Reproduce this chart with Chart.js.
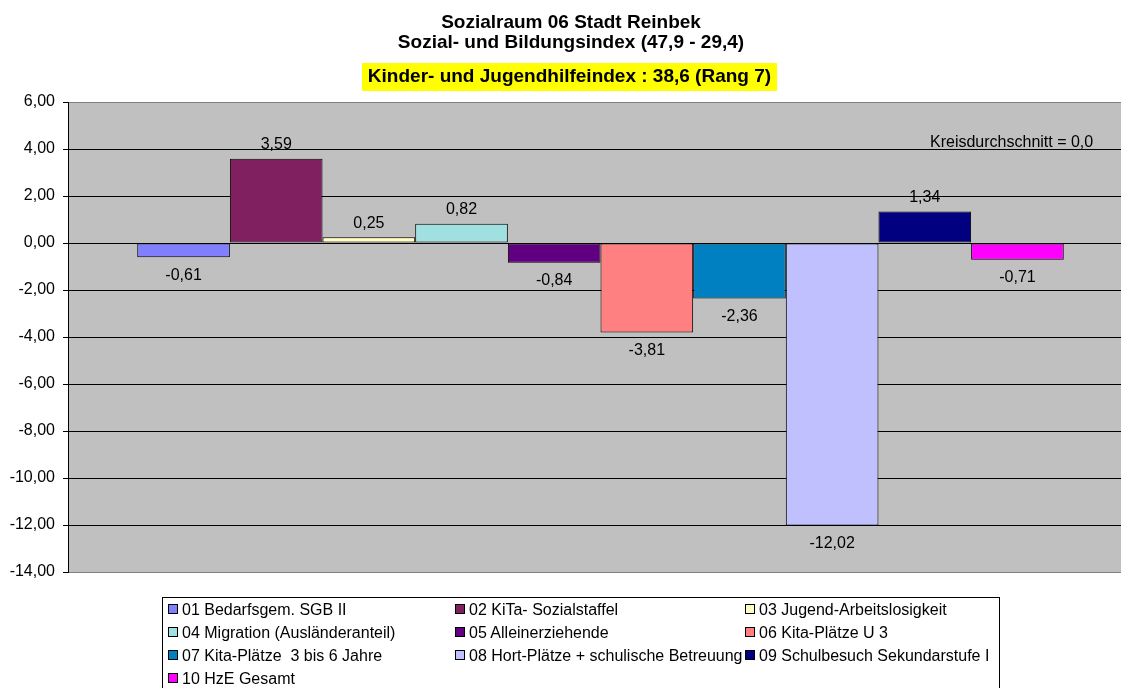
<!DOCTYPE html>
<html>
<head>
<meta charset="utf-8">
<script src="https://cdn.jsdelivr.net/npm/chart.js@4/dist/chart.umd.min.js"></script>
<style>
  html, body { margin: 0; padding: 0; background: #fff; overflow: hidden; }
  #wrap { position: relative; width: 1121px; height: 688px; overflow: hidden; font-family: "Liberation Sans", Arial, sans-serif; color: #000; }
  #chart-box { position: absolute; left: 0; top: 0; width: 1133px; height: 688px; }
  .title { position: absolute; left: 321px; width: 500px; text-align: center; font-weight: bold; font-size: 19px; line-height: 19px; white-space: nowrap; }
  #t3 { left: 362px; width: 415px; height: 28px; line-height: 25px; background: #ffff00; }
  #kreis { position: absolute; left: 930px; top: 133px; font-size: 16px; line-height: 18px; white-space: nowrap; }
  #legend { position: absolute; left: 162px; top: 597px; width: 838px; height: 100px; border: 1px solid #000; box-sizing: border-box; font-size: 16px; }
  .leg-item { position: absolute; white-space: pre; line-height: 18px; }
  .leg-item i { display: inline-block; width: 8px; height: 8px; border: 1px solid #000; margin-right: 4px; vertical-align: 1px; }
</style>
</head>
<body>
<div id="wrap">
  <div id="chart-box"><canvas id="chart" width="1133" height="688"></canvas></div>
  <div class="title" style="top:12px">Sozialraum 06 Stadt Reinbek</div>
  <div class="title" style="top:32px">Sozial- und Bildungsindex (47,9 - 29,4)</div>
  <div class="title" id="t3" style="top:63px">Kinder- und Jugendhilfeindex : 38,6 (Rang 7)</div>
  <div id="kreis">Kreisdurchschnitt = 0,0</div>
  <div id="legend"></div>
</div>
<script>
const seriesNames = [
  "01 Bedarfsgem. SGB II",
  "02 KiTa- Sozialstaffel",
  "03 Jugend-Arbeitslosigkeit",
  "04 Migration (Ausländeranteil)",
  "05 Alleinerziehende",
  "06 Kita-Plätze U 3",
  "07 Kita-Plätze  3 bis 6 Jahre",
  "08 Hort-Plätze + schulische Betreuung",
  "09 Schulbesuch Sekundarstufe I",
  "10 HzE Gesamt",
];
const seriesValues = [-0.61, 3.59, 0.25, 0.82, -0.84, -3.81, -2.36, -12.02, 1.34, -0.71];
const seriesColors = ["#8080ff", "#802060", "#ffffc0", "#a0e0e0", "#600080", "#ff8080", "#0080c0", "#c0c0ff", "#000080", "#ff00ff"];
const yTicks = { min: -14, max: 6, step: 2 };

const fmtDe = (v) => v.toFixed(2).replace(".", ",");

const plotBackground = {
  id: "plotBackground",
  beforeDraw(chart) {
    const { ctx, chartArea: a } = chart;
    ctx.save();
    ctx.fillStyle = "#c0c0c0";
    ctx.fillRect(a.left, a.top, a.right - a.left, a.bottom - a.top);
    ctx.restore();
  },
};

// value labels: above positive bars, below negative ones
const valueLabels = {
  id: "valueLabels",
  afterDatasetsDraw(chart) {
    const { ctx } = chart;
    ctx.save();
    ctx.font = "16px 'Liberation Sans', Arial, sans-serif";
    ctx.fillStyle = "#000";
    ctx.textAlign = "center";
    ctx.textBaseline = "middle";
    chart.data.datasets.forEach((ds, i) => {
      const bar = chart.getDatasetMeta(i).data[0];
      const v = ds.data[0];
      const y = v >= 0 ? bar.y - 14 : bar.y + 18;
      ctx.fillText(fmtDe(v), bar.x, y);
    });
    ctx.restore();
  },
};

function buildLegend() {
  const cols = [5, 292, 582];
  document.getElementById("legend").innerHTML = seriesNames.map((name, i) => {
    const left = cols[i % 3];
    const top = 3 + Math.floor(i / 3) * 23;
    return `<div class="leg-item" style="left:${left}px;top:${top}px"><i style="background:${seriesColors[i]}"></i>${name}</div>`;
  }).join("");
}

new Chart(document.getElementById("chart"), {
  type: "bar",
  data: {
    labels: [""],
    datasets: seriesNames.map((name, i) => ({
      label: name,
      data: [seriesValues[i]],
      backgroundColor: seriesColors[i],
      borderColor: "#000",
      borderWidth: 1,
      borderSkipped: false,
      categoryPercentage: 0.87,
      barPercentage: 1,
    })),
  },
  options: {
    responsive: false,
    animation: false,
    devicePixelRatio: 1,
    layout: { padding: { left: 0, right: 0, top: 102, bottom: 116 } },
    plugins: { legend: { display: false }, tooltip: { enabled: false }, title: { display: false } },
    scales: {
      x: { display: false },
      y: {
        min: yTicks.min,
        max: yTicks.max,
        afterFit: (scale) => { scale.width = 68; },
        ticks: {
          stepSize: yTicks.step,
          padding: 8,
          color: "#000",
          font: { family: "'Liberation Sans', Arial, sans-serif", size: 16 },
          callback: (v) => fmtDe(v),
        },
        grid: {
          color: (c) => (c.tick && (c.tick.value === yTicks.max || c.tick.value === yTicks.min) ? "#808080" : "#000"),
          tickColor: "#000",
          tickLength: 5,
          lineWidth: 1,
        },
        border: { display: true, color: "#000", width: 1 },
      },
    },
  },
  plugins: [plotBackground, valueLabels],
});

buildLegend();
</script>
</body>
</html>
